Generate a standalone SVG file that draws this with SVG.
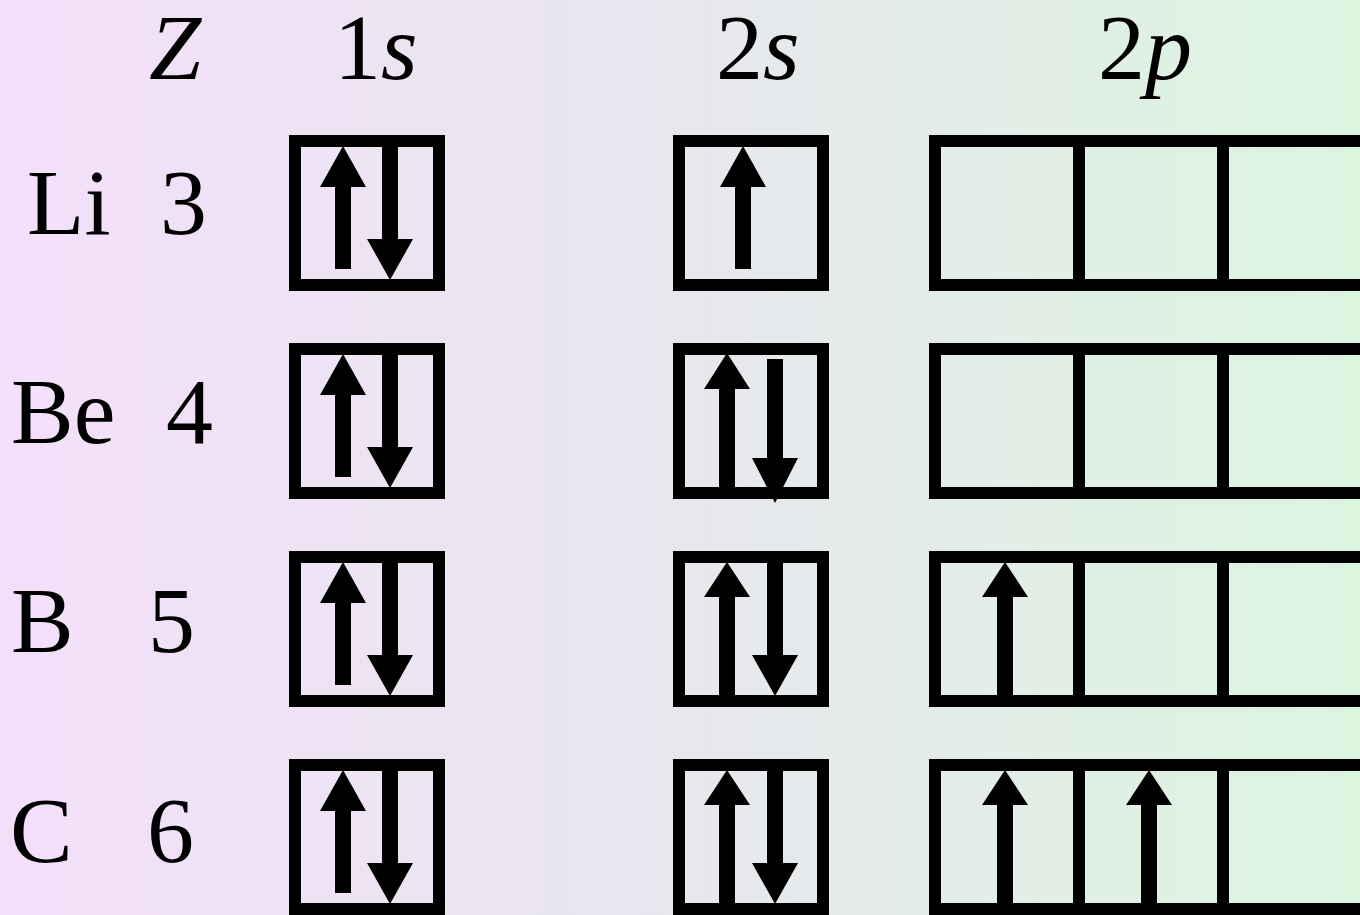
<svg xmlns="http://www.w3.org/2000/svg" width="1360" height="915" viewBox="0 0 1360 915">
<defs>
<linearGradient id="bg" x1="0" y1="0" x2="1" y2="0">
<stop offset="0" stop-color="#f4dffa"/>
<stop offset="0.5" stop-color="#e7e7ee"/>
<stop offset="1" stop-color="#dcf5df"/>
</linearGradient>
<style>
text{font-family:'Liberation Serif',serif;font-size:94px;fill:#000}
.i{font-style:italic}
.box{fill:none;stroke:#000;stroke-width:12}
.ar{fill:#000}
</style>
</defs>
<rect x="0" y="0" width="1360" height="915" fill="url(#bg)"/>
<g id="headers">
<text class="i" x="149" y="79">Z</text>
<text x="334" y="79">1<tspan class="i">s</tspan></text>
<text x="716" y="79">2<tspan class="i">s</tspan></text>
<text x="1098" y="79">2<tspan class="i">p</tspan></text>
</g>
<g id="labels">
<text x="27" y="234">Li</text><text x="160" y="234">3</text>
<text x="11" y="443">Be</text><text x="166" y="443">4</text>
<text x="11" y="652">B</text><text x="148" y="652">5</text>
<text x="10" y="862">C</text><text x="147" y="862">6</text>
</g>
<g id="row-Li">
<rect class="box" x="295" y="141" width="144" height="144"/>
<polygon class="ar" points="343,146 366,187 351,187 351,269 335,269 335,187 320,187"/>
<polygon class="ar" points="382,141 398,141 398,239 413,239 390,280 367,239 382,239"/>
<rect class="box" x="679" y="141" width="144" height="144"/>
<polygon class="ar" points="743,146 766,187 751,187 751,269 735,269 735,187 720,187"/>
<rect class="box" x="935" y="141" width="432" height="144"/>
<line x1="1079" y1="141" x2="1079" y2="285" stroke="#000" stroke-width="12"/>
<line x1="1223" y1="141" x2="1223" y2="285" stroke="#000" stroke-width="12"/>
</g>
<g id="row-Be">
<rect class="box" x="295" y="349" width="144" height="144"/>
<polygon class="ar" points="343,354 366,395 351,395 351,477 335,477 335,395 320,395"/>
<polygon class="ar" points="382,349 398,349 398,447 413,447 390,488 367,447 382,447"/>
<rect class="box" x="679" y="349" width="144" height="144"/>
<polygon class="ar" points="727,353 750,389 735,389 735,490 719,490 719,389 704,389"/>
<polygon class="ar" points="767,359 783,359 783,458 798,458 775,503 752,458 767,458"/>
<rect class="box" x="935" y="349" width="432" height="144"/>
<line x1="1079" y1="349" x2="1079" y2="493" stroke="#000" stroke-width="12"/>
<line x1="1223" y1="349" x2="1223" y2="493" stroke="#000" stroke-width="12"/>
</g>
<g id="row-B">
<rect class="box" x="295" y="557" width="144" height="144"/>
<polygon class="ar" points="343,562 366,603 351,603 351,685 335,685 335,603 320,603"/>
<polygon class="ar" points="382,557 398,557 398,655 413,655 390,696 367,655 382,655"/>
<rect class="box" x="679" y="557" width="144" height="144"/>
<polygon class="ar" points="727,562 750,597 735,597 735,698 719,698 719,597 704,597"/>
<polygon class="ar" points="767,557 783,557 783,655 798,655 775,696 752,655 767,655"/>
<rect class="box" x="935" y="557" width="432" height="144"/>
<line x1="1079" y1="557" x2="1079" y2="701" stroke="#000" stroke-width="12"/>
<line x1="1223" y1="557" x2="1223" y2="701" stroke="#000" stroke-width="12"/>
<polygon class="ar" points="1005,562 1028,597 1013,597 1013,698 997,698 997,597 982,597"/>
</g>
<g id="row-C">
<rect class="box" x="295" y="765" width="144" height="144"/>
<polygon class="ar" points="343,770 366,811 351,811 351,893 335,893 335,811 320,811"/>
<polygon class="ar" points="382,765 398,765 398,863 413,863 390,904 367,863 382,863"/>
<rect class="box" x="679" y="765" width="144" height="144"/>
<polygon class="ar" points="727,770 750,805 735,805 735,906 719,906 719,805 704,805"/>
<polygon class="ar" points="767,765 783,765 783,863 798,863 775,904 752,863 767,863"/>
<rect class="box" x="935" y="765" width="432" height="144"/>
<line x1="1079" y1="765" x2="1079" y2="909" stroke="#000" stroke-width="12"/>
<line x1="1223" y1="765" x2="1223" y2="909" stroke="#000" stroke-width="12"/>
<polygon class="ar" points="1005,770 1028,805 1013,805 1013,906 997,906 997,805 982,805"/>
<polygon class="ar" points="1149,770 1172,805 1157,805 1157,906 1141,906 1141,805 1126,805"/>
</g>
</svg>
